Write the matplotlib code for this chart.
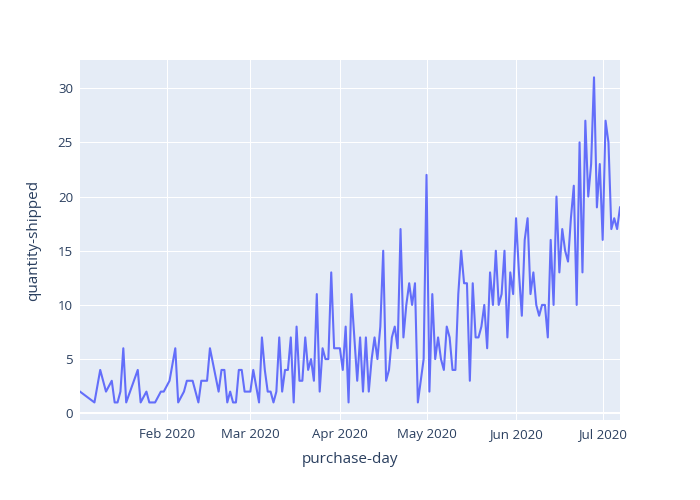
import matplotlib
matplotlib.use("Agg")
import matplotlib.pyplot as plt
import matplotlib.dates as mdates
import pandas as pd

dates = [
    "2020-01-02", "2020-01-07", "2020-01-09", "2020-01-11", "2020-01-13", "2020-01-14",
    "2020-01-15", "2020-01-16", "2020-01-17", "2020-01-18", "2020-01-22", "2020-01-23",
    "2020-01-25", "2020-01-26", "2020-01-28", "2020-01-30", "2020-01-31",
    "2020-02-02", "2020-02-04", "2020-02-05", "2020-02-07", "2020-02-08", "2020-02-10",
    "2020-02-12", "2020-02-13", "2020-02-15", "2020-02-16", "2020-02-19", "2020-02-20",
    "2020-02-21", "2020-02-22", "2020-02-23", "2020-02-24", "2020-02-25", "2020-02-26",
    "2020-02-27", "2020-02-28",
    "2020-03-01", "2020-03-02", "2020-03-04", "2020-03-05", "2020-03-06", "2020-03-07",
    "2020-03-08", "2020-03-09", "2020-03-10", "2020-03-11", "2020-03-12", "2020-03-13",
    "2020-03-14", "2020-03-15", "2020-03-16", "2020-03-17", "2020-03-18", "2020-03-19",
    "2020-03-20", "2020-03-21", "2020-03-22", "2020-03-23", "2020-03-24", "2020-03-25",
    "2020-03-26", "2020-03-27", "2020-03-28", "2020-03-29", "2020-03-30", "2020-03-31",
    "2020-04-01", "2020-04-02", "2020-04-03", "2020-04-04", "2020-04-05", "2020-04-06",
    "2020-04-07", "2020-04-08", "2020-04-09", "2020-04-10", "2020-04-11", "2020-04-12",
    "2020-04-13", "2020-04-14", "2020-04-15", "2020-04-16", "2020-04-17", "2020-04-18",
    "2020-04-19", "2020-04-20", "2020-04-21", "2020-04-22", "2020-04-23", "2020-04-24",
    "2020-04-25", "2020-04-26", "2020-04-27", "2020-04-28", "2020-04-29", "2020-04-30",
    "2020-05-01", "2020-05-02", "2020-05-03", "2020-05-04", "2020-05-05", "2020-05-06",
    "2020-05-07", "2020-05-08", "2020-05-09", "2020-05-10", "2020-05-11", "2020-05-12",
    "2020-05-13", "2020-05-14", "2020-05-15", "2020-05-16", "2020-05-17", "2020-05-18",
    "2020-05-19", "2020-05-20", "2020-05-21", "2020-05-22", "2020-05-23", "2020-05-24",
    "2020-05-25", "2020-05-26", "2020-05-27", "2020-05-28", "2020-05-29", "2020-05-30",
    "2020-05-31",
    "2020-06-01", "2020-06-02", "2020-06-03", "2020-06-04", "2020-06-05", "2020-06-06",
    "2020-06-07", "2020-06-08", "2020-06-09", "2020-06-10", "2020-06-11", "2020-06-12",
    "2020-06-13", "2020-06-14", "2020-06-15", "2020-06-16", "2020-06-17", "2020-06-18",
    "2020-06-19", "2020-06-20", "2020-06-21", "2020-06-22", "2020-06-23", "2020-06-24",
    "2020-06-25", "2020-06-26", "2020-06-27", "2020-06-28", "2020-06-29", "2020-06-30",
    "2020-07-01", "2020-07-02", "2020-07-03", "2020-07-04", "2020-07-05", "2020-07-06",
    "2020-07-07",
]

quantity = [
    2, 1, 4, 2, 3, 1,
    1, 2, 6, 1, 4, 1,
    2, 1, 1, 2, 2,
    3, 6, 1, 2, 3, 3,
    1, 3, 3, 6, 2, 4,
    4, 1, 2, 1, 1, 4,
    4, 2,
    2, 4, 1, 7, 4, 2,
    2, 1, 2, 7, 2, 4,
    4, 7, 1, 8, 3, 3,
    7, 4, 5, 3, 11, 2,
    6, 5, 5, 13, 6, 6,
    6, 4, 8, 1, 11, 7,
    3, 7, 2, 7, 2, 5,
    7, 5, 8, 15, 3, 4,
    7, 8, 6, 17, 7, 10,
    12, 10, 12, 1, 3, 5,
    22, 2, 11, 5, 7, 5,
    4, 8, 7, 4, 4, 11,
    15, 12, 12, 3, 12, 7,
    7, 8, 10, 6, 13, 10,
    15, 10, 11, 15, 7, 13,
    11,
    18, 13, 9, 16, 18, 11,
    13, 10, 9, 10, 10, 7,
    16, 10, 20, 13, 17, 15,
    14, 18, 21, 10, 25, 13,
    27, 20, 23, 31, 19, 23,
    16, 27, 25, 17, 18, 17,
    19,
]

x_tick_dates = ["2020-02-01", "2020-03-01", "2020-04-01", "2020-05-01", "2020-06-01", "2020-07-01"]
y_ticks = [0, 5, 10, 15, 20, 25, 30]

x = pd.to_datetime(dates)

plt.rcParams['font.family'] = ['Open Sans', 'DejaVu Sans']
text_color = "#2a3f5f"

fig = plt.figure(figsize=(7, 5), dpi=100)
ax = fig.add_axes([80 / 700, 80 / 500, 540 / 700, 360 / 500])
ax.set_facecolor("#E5ECF6")

ax.plot(x, quantity, color="#636efa", linewidth=1.5, solid_joinstyle="round", zorder=3)

ax.set_xlim(x[0], x[-1])
ax.set_ylim(-0.62, 32.6)

ax.set_yticks(y_ticks)
ax.set_xticks(pd.to_datetime(x_tick_dates))
ax.xaxis.set_major_formatter(mdates.DateFormatter("%b %Y"))

ax.grid(True, color="white", linewidth=0.75, zorder=1)
ax.axhline(0, color="white", linewidth=1.5, zorder=2)
for s in ax.spines.values():
    s.set_visible(False)
ax.tick_params(axis="both", length=0, labelsize=9.5, labelcolor=text_color)
ax.tick_params(axis="y", pad=5)
ax.tick_params(axis="x", pad=6)

ax.set_xlabel("purchase-day", fontsize=11, color=text_color, labelpad=8)
ax.set_ylabel("quantity-shipped", fontsize=11, color=text_color, labelpad=12)

fig.savefig("out.png", dpi=100)
